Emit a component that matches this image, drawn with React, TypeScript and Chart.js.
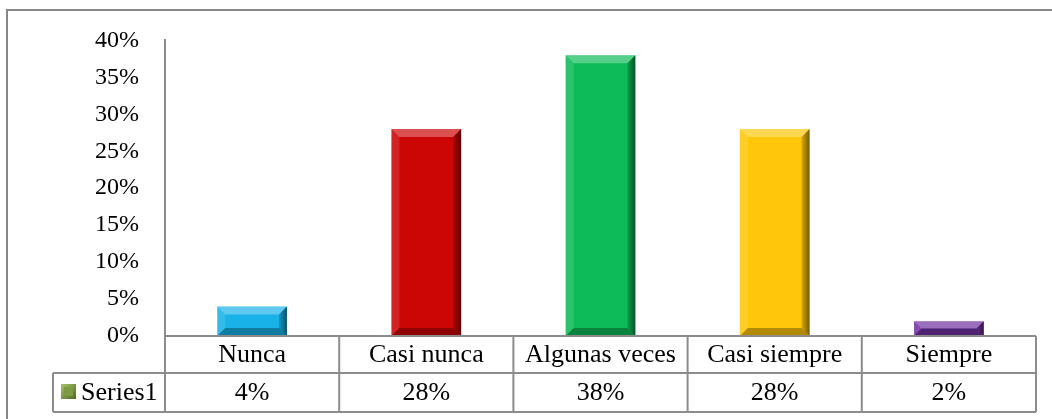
import React, { useEffect, useRef } from "react";
import { Chart, registerables } from "chart.js";

Chart.register(...registerables);

const categories = ["Nunca", "Casi nunca", "Algunas veces", "Casi siempre", "Siempre"];
const values = [4, 28, 38, 28, 2];
const valueLabels = ["4%", "28%", "38%", "28%", "2%"];
const barColors = ["#18B2E8", "#CC0505", "#0DBA58", "#FFC60A", "#7232A2"];
const seriesName = "Series1";
const yMax = 40;
const yStep = 5;

const FONT = "'Liberation Serif', 'Times New Roman', serif";
const LINE = "#8c8c8c";

const bevelPlugin = {
  id: "bevel",
  afterDatasetsDraw(chart: any) {
    const ctx = chart.ctx;
    const meta = chart.getDatasetMeta(0);
    meta.data.forEach((bar: any) => {
      const p = bar.getProps(["x", "y", "base", "width"], true);
      const l = p.x - p.width / 2;
      const r = p.x + p.width / 2;
      const t = Math.min(p.y, p.base);
      const b = Math.max(p.y, p.base);
      const bv = Math.min(8, (b - t) / 2, p.width / 2);
      const poly = (pts: number[][], fill: any) => {
        ctx.beginPath();
        ctx.moveTo(pts[0][0], pts[0][1]);
        for (let i = 1; i < pts.length; i++) ctx.lineTo(pts[i][0], pts[i][1]);
        ctx.closePath();
        ctx.fillStyle = fill;
        ctx.fill();
      };
      ctx.save();
      poly([[l, t], [r, t], [r - bv, t + bv], [l + bv, t + bv]], "rgba(255,255,255,0.30)");
      poly([[l, t], [l + bv, t + bv], [l + bv, b - bv], [l, b]], "rgba(255,255,255,0.12)");
      const gr = ctx.createLinearGradient(r - bv, 0, r, 0);
      gr.addColorStop(0, "rgba(0,0,0,0.15)");
      gr.addColorStop(1, "rgba(0,0,0,0.55)");
      poly([[r, t], [r, b], [r - bv, b - bv], [r - bv, t + bv]], gr);
      poly([[l, b], [r, b], [r - bv, b - bv], [l + bv, b - bv]], "rgba(0,0,0,0.30)");
      ctx.restore();
    });
  },
};

const framePlugin = {
  id: "frame",
  beforeDraw(chart: any) {
    const ctx = chart.ctx;
    ctx.save();
    ctx.fillStyle = "#ffffff";
    ctx.fillRect(0, 0, chart.width, chart.height);
    ctx.strokeStyle = "#878787";
    ctx.lineWidth = 2;
    ctx.beginPath();
    ctx.moveTo(7, chart.height + 2);
    ctx.lineTo(7, 10);
    ctx.lineTo(chart.width + 2, 10);
    ctx.stroke();
    ctx.restore();
  },
};

const tablePlugin = {
  id: "dataTable",
  afterDraw(chart: any) {
    const ctx = chart.ctx;
    const area = chart.chartArea;
    const xs = chart.scales.x;
    const n = categories.length;
    const colW = (area.right - area.left) / n;
    const row1Top = area.bottom;
    const row1Bot = area.bottom + 37;
    const row2Bot = area.bottom + 76;
    const tableLeft = 53;
    ctx.save();
    ctx.strokeStyle = LINE;
    ctx.lineWidth = 2;
    ctx.beginPath();
    ctx.moveTo(area.left, row1Top);
    ctx.lineTo(area.right, row1Top);
    ctx.moveTo(tableLeft, row1Bot);
    ctx.lineTo(area.right, row1Bot);
    ctx.moveTo(tableLeft, row2Bot);
    ctx.lineTo(area.right, row2Bot);
    ctx.moveTo(tableLeft, row1Bot);
    ctx.lineTo(tableLeft, row2Bot);
    for (let i = 0; i <= n; i++) {
      const x = area.left + i * colW;
      ctx.moveTo(x, row1Top);
      ctx.lineTo(x, row2Bot);
    }
    ctx.stroke();

    ctx.fillStyle = "#000000";
    ctx.font = `26px ${FONT}`;
    ctx.textAlign = "center";
    ctx.textBaseline = "middle";
    categories.forEach((c, i) => {
      const cx = xs.getPixelForValue(i);
      ctx.fillText(c, cx, (row1Top + row1Bot) / 2 + 1);
      ctx.fillText(valueLabels[i], cx, (row1Bot + row2Bot) / 2 + 1);
    });

    // legend key
    const kx = 61, ky = 384, ks = 15;
    const g = ctx.createLinearGradient(kx, ky, kx + ks, ky + ks);
    g.addColorStop(0, "#a9c46a");
    g.addColorStop(1, "#4f6a22");
    ctx.fillStyle = g;
    ctx.fillRect(kx, ky, ks, ks);
    ctx.fillStyle = "#7d9a45";
    ctx.fillRect(kx + 3, ky + 3, ks - 6, ks - 6);
    ctx.fillStyle = "#000000";
    ctx.textAlign = "left";
    ctx.fillText(seriesName, 81, (row1Bot + row2Bot) / 2 + 1);
    ctx.restore();
  },
};

export default function App() {
  const ref = useRef<HTMLCanvasElement | null>(null);
  useEffect(() => {
    if (!ref.current) return;
    const chart = new Chart(ref.current, {
      type: "bar",
      data: {
        labels: categories,
        datasets: [
          {
            label: seriesName,
            data: values,
            backgroundColor: barColors,
            borderWidth: 0,
            barPercentage: 0.4,
            categoryPercentage: 1,
          },
        ],
      },
      options: {
        animation: false,
        responsive: false,
        maintainAspectRatio: false,
        layout: { padding: { left: 0, right: 16, top: 39, bottom: 83 } },
        plugins: { legend: { display: false }, tooltip: { enabled: false } },
        scales: {
          x: { display: false },
          y: {
            min: 0,
            max: yMax,
            afterFit: (s: any) => {
              s.width = 165;
            },
            ticks: {
              stepSize: yStep,
              padding: 26,
              color: "#000000",
              font: { family: FONT, size: 24 },
              callback: (v: any) => `${v}%`,
            },
            grid: { display: false, drawTicks: false },
            border: { display: true, color: "#8c8c8c", width: 2 },
          },
        },
      },
      plugins: [framePlugin, bevelPlugin, tablePlugin],
    });
    return () => chart.destroy();
  }, []);
  return (
    <div style={{ position: "absolute", left: 0, top: 0, width: 1052, height: 419 }}>
      <canvas ref={ref} width={1052} height={419} style={{ width: 1052, height: 419, display: "block" }} />
    </div>
  );
}
